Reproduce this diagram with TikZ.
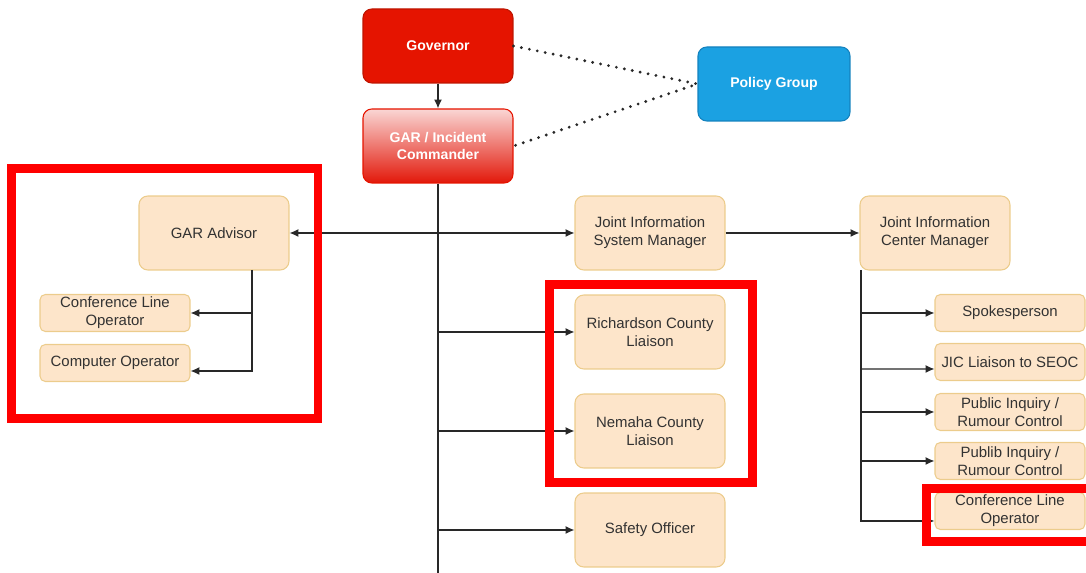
\documentclass[tikz,border=0pt]{standalone}
\usepackage{fontspec}
\setmainfont{Liberation Sans}
\usepackage{tikz}
\usetikzlibrary{shapes, arrows.meta}

\definecolor{govred}{RGB}{229,20,0}
\definecolor{govline}{RGB}{190,20,0}
\definecolor{gartop}{RGB}{250,214,212}
\definecolor{garbot}{RGB}{226,24,10}
\definecolor{policyblue}{RGB}{27,161,226}
\definecolor{policyline}{RGB}{20,130,190}
\definecolor{rolefill}{RGB}{253,229,202}
\definecolor{roleline}{RGB}{236,204,140}
\definecolor{roletext}{RGB}{50,50,50}
\definecolor{linegray}{RGB}{40,40,40}

\begin{document}
\begin{tikzpicture}[x=0.02cm, y=-0.02cm, font=\fontsize{8.5}{10.2}\selectfont,
    >={Latex[length=5pt, width=4.5pt]}]
      \tikzstyle{role} = [
        rectangle,
        draw=roleline,
        fill=rolefill,
        text=roletext,
        align=center,
        minimum width=3cm,
        minimum height=1.48cm,
        inner sep=1pt,
        line width=0.6pt,
        rounded corners=5pt
      ]

      \tikzstyle{duty} = [
        role,
        minimum height=0.74cm,
        rounded corners=3pt
      ]

      \tikzstyle{chief} = [
        rectangle,
        text=white,
        align=center,
        font=\fontsize{8}{9.6}\selectfont\bfseries,
        minimum width=3cm,
        minimum height=1.48cm,
        line width=0.6pt,
        rounded corners=5pt
      ]

      \tikzstyle{highlight} = [
        draw=red,
        line width=5pt
      ]

      \tikzstyle{link} = [
        draw=linegray,
        line width=0.75pt
      ]

      \useasboundingbox (0,0) rectangle (1086,573);

      \node[chief, draw=govline, fill=govred] (governor) at (438,46) {Governor};
      \node[chief, draw=govred, top color=gartop, bottom color=garbot] (gar) at (438,146) {GAR / Incident\\Commander};
      \node[chief, draw=policyline, fill=policyblue, minimum width=3.04cm] (policy) at (774,84) {Policy Group};

      \node[role] (advisor) at (214,233) {GAR Advisor};
      \node[duty] (confleft) at (115,313) {Conference Line\\Operator};
      \node[duty] (computer) at (115,363) {Computer Operator};

      \node[role] (jism) at (650,233) {Joint Information\\System Manager};
      \node[role] (richardson) at (650,332) {Richardson County\\Liaison};
      \node[role] (nemaha) at (650,431) {Nemaha County\\Liaison};
      \node[role] (safety) at (650,530) {Safety Officer};

      \node[role] (jicm) at (935,233) {Joint Information\\Center Manager};
      \node[duty] (spokes) at (1010,313) {Spokesperson};
      \node[duty] (jicliaison) at (1010,362) {JIC Liaison to SEOC};
      \node[duty] (inquiry) at (1010,412) {Public Inquiry /\\Rumour Control};
      \node[duty] (publib) at (1010,461) {Publib Inquiry /\\Rumour Control};
      \node[duty] (confright) at (1010,511) {Conference Line\\Operator};

      \coordinate (trunkend) at (438,573);
      \coordinate (advdrop) at (252,270);
      \coordinate (jicdrop) at (861,270);

      % chain of command
      \draw[link, ->] (governor) -- (gar);
      \draw[linegray, line width=1.8pt, line cap=round, dash pattern=on 0pt off 4.6pt]
        (governor.east) -- (policy.west) -- (gar.east);
      \draw[link] (gar) -- (trunkend);
      \draw[link, <->] (advisor) -- (jism);
      \draw[link, ->] (jism) -- (jicm);
      \draw[link, ->] (gar.south |- richardson.west) -- (richardson);
      \draw[link, ->] (gar.south |- nemaha.west) -- (nemaha);
      \draw[link, ->] (gar.south |- safety.west) -- (safety);

      % advisor staff
      \draw[link, ->] (advdrop) |- ([yshift=-0.16cm]computer.east);
      \draw[link, ->] (advdrop |- confleft.east) -- (confleft);

      % JIC staff
      \draw[link, ->] (jicdrop) |- ([yshift=-0.2cm]confright.west);
      \draw[link, ->] (jicdrop |- spokes.west) -- (spokes);
      \draw[link, ->] (jicdrop |- jicliaison.west) ++(0,7) -- ([yshift=-0.14cm]jicliaison.west);
      \draw[link, ->] (jicdrop |- inquiry.west) -- (inquiry);
      \draw[link, ->] (jicdrop |- publib.west) -- (publib);

      % highlighted groups
      \draw[highlight] (11.5,168.5) rectangle (318,418.5);
      \draw[highlight] (549.5,284.5) rectangle (752.5,482.5);
      \draw[highlight] (926.5,488.5) rectangle (1095,541.5);
    \end{tikzpicture}
\end{document}
